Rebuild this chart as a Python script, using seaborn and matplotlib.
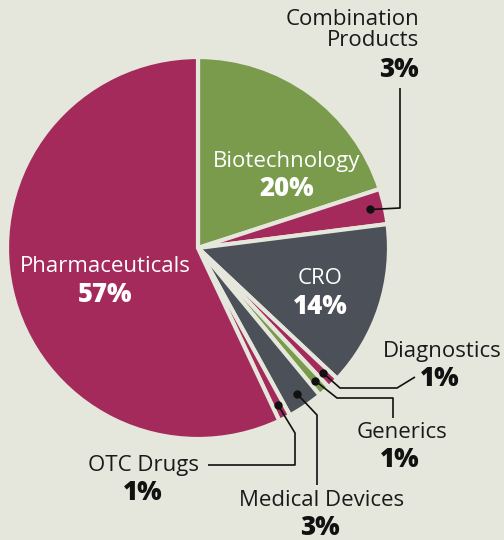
import matplotlib.pyplot as plt
import numpy as np
import seaborn as sns

# ========================================================================
# DATA
# ========================================================================
sectors = ['Biotechnology', 'Combination\nProducts', 'CRO', 'Diagnostics', 'Generics',
           'Medical Devices', 'OTC Drugs', 'Pharmaceuticals']
shares = [20, 3, 14, 1, 1, 3, 1, 57]
pct_labels = ['20%', '3%', '14%', '1%', '1%', '3%', '1%', '57%']

MAROON = '#a52a5c'
GREEN = '#7a9b4b'
GRAY = '#4b5059'
BG = '#e6e7dc'
colors = [GREEN, MAROON, GRAY, MAROON, GREEN, GRAY, MAROON, MAROON]

# ========================================================================
# FIGURE (axes in pixel units, y going up)
# ========================================================================
sns.set_style('white')
plt.rcParams['font.family'] = ['Open Sans', 'DejaVu Sans']

W, H = 504, 540
fig = plt.figure(figsize=(W / 100, H / 100), dpi=100, facecolor=BG)
ax = fig.add_axes([0, 0, 1, 1])
ax.set_facecolor(BG)

cx, cy, R = 198, H - 248, 191
wedges, _ = ax.pie(shares, colors=colors, startangle=90, counterclock=False,
                   center=(cx, cy), radius=R, frame=True,
                   wedgeprops=dict(edgecolor=BG, linewidth=3))
ax.set_xlim(0, W)
ax.set_ylim(0, H)
ax.set_aspect('equal')
ax.axis('off')


def mid_point(w, frac):
    ang = np.deg2rad((w.theta1 + w.theta2) / 2)
    return cx + frac * R * np.cos(ang), cy + frac * R * np.sin(ang)


NAME_FS = 16
PCT_FS = 18.5

# INSIDE LABELS
inside = {0: (287, 161), 2: (320, 279), 7: (105, 267)}
for i, (px, py) in inside.items():
    ax.text(px, H - py, sectors[i], color='white', fontsize=NAME_FS, ha='center', va='center')
    ax.text(px, H - py - 28, pct_labels[i], color='white', fontsize=PCT_FS,
            fontweight='heavy', ha='center', va='center')

# OUTSIDE LABELS WITH LEADER LINES (elbow points in pixels)
outside = {
    1: dict(path=[(400, 208), (400, 88)], text=(419, 30), ha='right', pct=(419, 70)),
    3: dict(path=[(340, 388), (397, 388), (415, 377)], text=(442, 351), ha='center', pct=(440, 379)),
    4: dict(path=[(337, 398), (393, 398), (393, 418)], text=(402, 433), ha='center', pct=(400, 460)),
    5: dict(path=[(317, 415), (317, 485)], text=(322, 501), ha='center', pct=(320, 528)),
    6: dict(path=[(295, 433), (295, 465), (208, 465)], text=(143, 466), ha='center', pct=(143, 493)),
}
for i, d in outside.items():
    dx, dy = mid_point(wedges[i], 0.925)
    xs = [dx] + [p[0] for p in d['path']]
    ys = [dy] + [H - p[1] for p in d['path']]
    ax.plot(xs, ys, color='#111111', linewidth=1.2, solid_capstyle='butt')
    ax.plot(dx, dy, 'o', color='#111111', markersize=5)
    ax.text(d['text'][0], H - d['text'][1], sectors[i], color='#1a1a1a', fontsize=NAME_FS,
            ha=d['ha'], va='center', linespacing=1.0)
    ax.text(d['pct'][0], H - d['pct'][1], pct_labels[i], color='#111111', fontsize=PCT_FS,
            fontweight='heavy', ha=d['ha'], va='center')

plt.savefig('out.png', dpi=100, facecolor=BG)
